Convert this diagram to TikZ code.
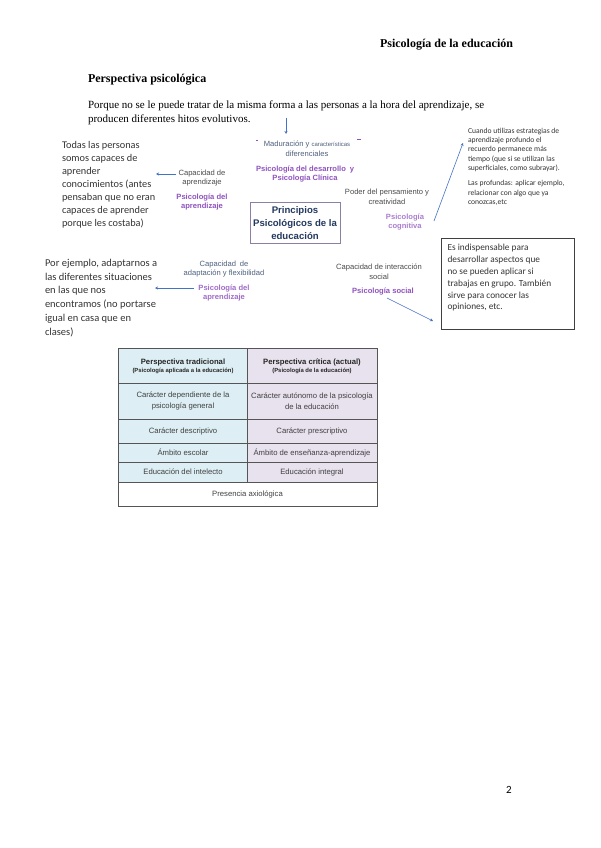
\documentclass[tikz,border=0pt]{standalone}
\usepackage{fontspec}
\setmainfont{Liberation Serif}
\setsansfont{Liberation Sans}
\newfontfamily\calfont{Carlito}
\usetikzlibrary{arrows.meta, positioning}
\definecolor{pspurple}{HTML}{8E52BE}
\definecolor{psblue}{HTML}{4472C4}
\definecolor{psnavy}{HTML}{22385E}
\definecolor{psgray}{HTML}{4A4A4A}
\definecolor{psframe}{HTML}{8C7FA6}
\definecolor{tabcyan}{HTML}{DDEFF4}
\definecolor{tablila}{HTML}{E8E1EE}
\definecolor{tabline}{HTML}{555555}

\begin{document}
\begin{tikzpicture}[
  x=1pt, y=-1pt,
  every node/.style={inner sep=0pt, outer sep=0pt},
  doctext/.style={font=\fontsize{11}{14}\selectfont, align=left, anchor=north west},
  notetext/.style={font=\calfont\fontsize{10.3}{13}\selectfont, text=black!80, align=left, anchor=north west},
  smallnote/.style={font=\calfont\fontsize{7.6}{9.3}\selectfont, text=black!80, align=left, anchor=north west},
  caplabel/.style={font=\sffamily\fontsize{7.6}{9.8}\selectfont, text=psgray, align=center},
  pslabel/.style={font=\sffamily\bfseries\fontsize{7.6}{9.8}\selectfont, text=pspurple, align=center},
  linkarrow/.style={-{Stealth[length=3pt, width=3pt]}, psblue, line width=0.6pt},
  cellhead/.style={font=\sffamily\bfseries\fontsize{7.7}{9}\selectfont, text=black!85, align=center},
  cell/.style={font=\sffamily\fontsize{7.7}{11}\selectfont, text=black!75, align=center},
]
\useasboundingbox (0,0) rectangle (600,848);

% page header and intro
\node[anchor=base west, font=\bfseries\fontsize{12}{14}\selectfont] (header) at (380,48) {Psicología de la educación};
\node[anchor=base west, font=\bfseries\fontsize{12}{14}\selectfont] (section) at (88,83) {Perspectiva psicológica};
\node[doctext] (intro) at (88,101) {Porque no se le puede tratar de la misma forma a las personas a la hora del aprendizaje, se\\producen diferentes hitos evolutivos.};

% central box
\node[draw=psframe, line width=0.8pt, minimum width=90pt, minimum height=41pt, font=\sffamily\bfseries\fontsize{9.6}{12.6}\selectfont, text=psnavy, align=center] (ppe) at (295,223) {Principios\\Psicológicos de la\\educación};

% maduracion
\coordinate (topA) at (286,118);
\coordinate (topB) at (286,134);
\draw[linkarrow] (topA) -- (topB);
\node[caplabel, text=psnavy!80] (madur) at (307,149) {Maduración y {\fontsize{6}{9.8}\selectfont características}\\diferenciales};
\node[pslabel] (psdes) at (305,174) {Psicología del desarrollo\enspace y\\Psicología Clínica};
\coordinate (dashL) at (256,140);
\coordinate (dashR) at (357,139);
\draw[pspurple, line width=0.8pt] (dashL) -- ++(1.5,0);
\draw[pspurple, line width=0.8pt] (dashR) -- ++(4,0);

% aprendizaje
\node[caplabel] (capA) at (202,178) {Capacidad de\\aprendizaje};
\node[pslabel] (psA) at (202,202) {Psicología del\\aprendizaje};
\node[notetext] (noteA) at (62,141) {Todas las personas\\somos capaces de\\aprender\\conocimientos (antes\\pensaban que no eran\\capaces de aprender\\porque les costaba)};
\coordinate (arrA) at (176,174);
\coordinate (arrAe) at (156,174);
\draw[linkarrow] (arrA) -- (arrAe);

% cognitiva
\node[caplabel] (capC) at (387,197) {Poder del pensamiento y\\creatividad};
\node[pslabel, text=pspurple!75] (psC) at (405,222) {Psicología\\cognitiva};
\node[smallnote] (noteC) at (468,128) {Cuando utilizas estrategias de\\aprendizaje profundo el\\recuerdo permanece más\\tiempo (que si se utilizan las\\superficiales, como subrayar).\\[6pt]Las profundas: aplicar ejemplo,\\relacionar con algo que ya\\conozcas,etc};
\coordinate (arrC) at (434,221);
\coordinate (arrCe) at (463,143);
\draw[linkarrow] (arrC) -- (arrCe);

% adaptacion
\node[caplabel, text=psnavy!80] (capD) at (224,269) {Capacidad\enspace de\\adaptación y flexibilidad};
\node[pslabel, text=pspurple!85] (psD) at (224,293) {Psicología del\\aprendizaje};
\node[notetext, font=\calfont\fontsize{10.5}{13.8}\selectfont] (noteD) at (45,259) {Por ejemplo, adaptarnos a\\las diferentes situaciones\\en las que nos\\encontramos (no portarse\\igual en casa que en\\clases)};
\coordinate (arrD) at (194,288);
\coordinate (arrDe) at (155,288);
\draw[linkarrow] (arrD) -- (arrDe);

% social
\node[caplabel] (capS) at (379,272) {Capacidad de interacción\\social};
\node[pslabel] (psS) at (383,292) {Psicología social};
\node[draw=black!75, line width=0.7pt, minimum width=133pt, minimum height=91pt] (boxS) at (508,284) {};
\node[notetext, font=\calfont\fontsize{9.3}{11.8}\selectfont] (noteS) at ([xshift=6pt, yshift=-6pt]boxS.north west) {Es indispensable para\\desarrollar aspectos que\\no se pueden aplicar si\\trabajas en grupo. También\\sirve para conocer las\\opiniones, etc.};
\coordinate (arrS) at (387,298);
\coordinate (arrSe) at (433,321);
\draw[linkarrow] (arrS) -- (arrSe);

% comparison table
\fill[tabcyan] (118,348) rectangle (247,482);
\fill[tablila] (247,348) rectangle (377,482);
\draw[tabline, line width=0.7pt] (118,348) rectangle (377,506);
\foreach \ry in {383,419,443,462,482}
  \draw[tabline, line width=0.7pt] (118,\ry) -- (377,\ry);
\draw[tabline, line width=0.7pt] (247,348) -- (247,482);

\node[cellhead] (th1) at (183,366) {Perspectiva tradicional\\[-1pt]{\fontsize{5.9}{7}\selectfont(Psicología aplicada a la educación)}};
\node[cellhead] (th2) at (312,366) {Perspectiva crítica (actual)\\[-1pt]{\fontsize{5.9}{7}\selectfont(Psicología de la educación)}};
\node[cell] (t11) at (183,401) {Carácter dependiente de la\\psicología general};
\node[cell] (t12) at (312,401) {Carácter autónomo de la psicología\\de la educación};
\node[cell] (t21) at (183,431) {Carácter descriptivo};
\node[cell] (t22) at (312,431) {Carácter prescriptivo};
\node[cell] (t31) at (183,452.5) {Ámbito escolar};
\node[cell] (t32) at (312,452.5) {Ámbito de enseñanza-aprendizaje};
\node[cell] (t41) at (183,472) {Educación del intelecto};
\node[cell] (t42) at (312,472) {Educación integral};
\node[cell] (t5) at (247.5,494) {Presencia axiológica};

% page number
\node[font=\calfont\fontsize{11}{13}\selectfont] (pagenum) at (509,790) {2};
\end{tikzpicture}
\end{document}
